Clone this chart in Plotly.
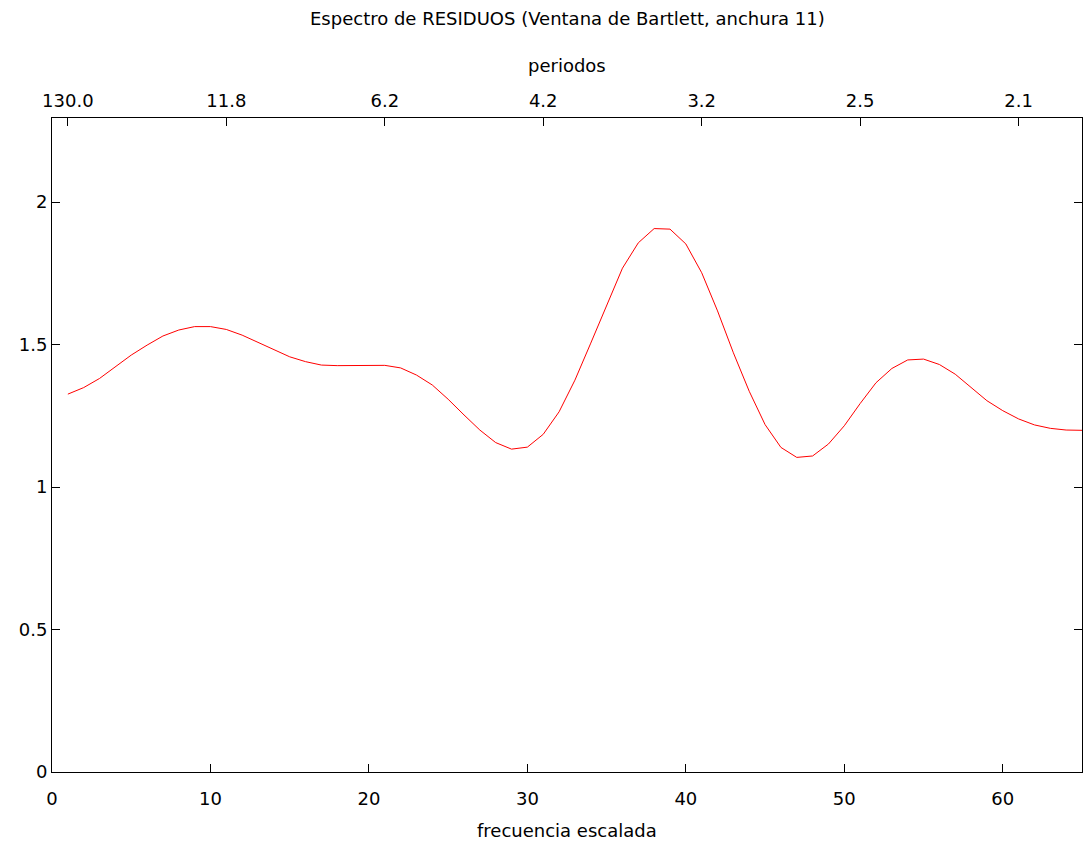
import plotly.graph_objects as go

freq = list(range(1, 66))
spectrum = [
    1.326, 1.349, 1.381, 1.422, 1.463, 1.498, 1.530, 1.551, 1.563, 1.563,
    1.553, 1.533, 1.508, 1.481, 1.457, 1.440, 1.428, 1.426, 1.427, 1.428,
    1.427, 1.418, 1.393, 1.358, 1.308, 1.253, 1.200, 1.156, 1.133, 1.140,
    1.185, 1.264, 1.375, 1.505, 1.635, 1.768, 1.857, 1.907, 1.905, 1.853,
    1.752, 1.618, 1.471, 1.336, 1.219, 1.139, 1.104, 1.109, 1.151, 1.215,
    1.293, 1.366, 1.416, 1.446, 1.449, 1.430, 1.396, 1.348, 1.303, 1.268,
    1.239, 1.218, 1.206, 1.200, 1.199,
]
bottom_ticks = [0, 10, 20, 30, 40, 50, 60]
top_tickvals = [1, 11, 21, 31, 41, 51, 61]
top_ticktext = ["130.0", "11.8", "6.2", "4.2", "3.2", "2.5", "2.1"]
y_ticks = [0, 0.5, 1, 1.5, 2]
y_ticktext = ["0", "0.5", "1", "1.5", "2"]

FONT = "DejaVu Sans"
FS = 18
H = 841
T, B = 118, 69

fig = go.Figure()
fig.add_trace(go.Scatter(x=freq, y=spectrum, mode="lines",
                         line=dict(color="#ff0000", width=1),
                         showlegend=False, hoverinfo="x+y"))
fig.add_trace(go.Scatter(x=freq, y=spectrum, mode="lines", xaxis="x2",
                         line=dict(color="rgba(0,0,0,0)", width=0),
                         showlegend=False, hoverinfo="skip"))

def py(pix):
    # convert a pixel row (from top) to paper coordinate
    return (H - B - pix) / (H - T - B)

fig.update_layout(
    width=1084, height=H,
    paper_bgcolor="white", plot_bgcolor="white",
    margin=dict(l=52, r=2, t=T, b=B),
    font=dict(family=FONT, size=FS, color="black"),
    xaxis=dict(range=[0, 65], tickvals=bottom_ticks, ticks="inside", ticklen=8,
               tickcolor="black", showline=True, linecolor="black", linewidth=1,
               mirror=True, showgrid=False, zeroline=False, automargin=False,
               ticklabelstandoff=10, tickfont=dict(size=FS)),
    xaxis2=dict(range=[0, 65], overlaying="x", side="top", tickvals=top_tickvals,
                ticktext=top_ticktext, ticks="inside", ticklen=8, tickcolor="black",
                showline=False, showgrid=False, zeroline=False, automargin=False,
                ticklabelstandoff=6, tickfont=dict(size=FS)),
    yaxis=dict(range=[0, 2.295], tickvals=y_ticks, ticktext=y_ticktext,
               ticks="inside", ticklen=8, tickcolor="black", showline=True,
               linecolor="black", linewidth=1, mirror="ticks", showgrid=False,
               zeroline=False, automargin=False, tickfont=dict(size=FS)),
    annotations=[
        dict(text="Espectro de RESIDUOS (Ventana de Bartlett, anchura 11)",
             xref="paper", yref="paper", x=0.5, y=py(19), xanchor="center",
             yanchor="middle", showarrow=False, font=dict(size=FS)),
        dict(text="periodos", xref="paper", yref="paper", x=0.5, y=py(66),
             xanchor="center", yanchor="middle", showarrow=False,
             font=dict(size=FS)),
        dict(text="frecuencia escalada", xref="paper", yref="paper", x=0.5,
             y=py(830), xanchor="center", yanchor="middle", showarrow=False,
             font=dict(size=FS)),
    ],
)

fig.write_html("out.html",
               config={"displayModeBar": False},
               post_script="document.body.style.margin='0px';"
                           "document.body.style.overflow='hidden';")
